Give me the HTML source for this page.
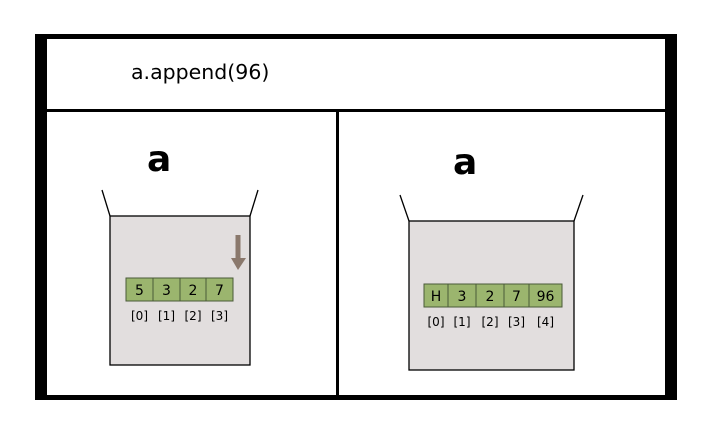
<!DOCTYPE html>
<html><head><meta charset="utf-8"><style>html,body{margin:0;padding:0;background:#fff}svg{display:block}</style></head>
<body>
<svg id="diagram" width="704" height="444" viewBox="0 0 704 444" font-family="DejaVu Sans, Liberation Sans, sans-serif">
<g>
<rect x="35" y="34" width="642" height="5" fill="#000"/>
<rect x="35" y="395" width="642" height="5" fill="#000"/>
<rect x="35" y="34" width="12" height="366" fill="#000"/>
<rect x="665" y="34" width="12" height="366" fill="#000"/>
<rect x="47" y="109" width="618" height="3" fill="#000"/>
<rect x="336" y="112" width="3" height="283" fill="#000"/>
</g>
<text x="131" y="79" font-size="20.5" fill="#000">a.append(96)</text>
<text x="147" y="171" font-size="36" font-weight="bold">a</text>
<text x="453" y="174" font-size="36" font-weight="bold">a</text>
<g>
<line x1="102" y1="190" x2="110" y2="216" stroke="#000" stroke-width="1.3"/>
<line x1="258" y1="190" x2="250" y2="216" stroke="#000" stroke-width="1.3"/>
<rect x="110" y="216" width="140" height="149" fill="#e2dede" stroke="#000" stroke-width="1.3"/>
<rect x="235.5" y="235" width="5" height="24" fill="#8a786c"/>
<polygon points="231,258 246,258 238,270" fill="#8a786c"/>
</g>
<g>
<line x1="400" y1="195" x2="409" y2="221" stroke="#000" stroke-width="1.3"/>
<line x1="583" y1="195" x2="574" y2="221" stroke="#000" stroke-width="1.3"/>
<rect x="409" y="221" width="165" height="149" fill="#e2dede" stroke="#000" stroke-width="1.3"/>
</g>
<g id="cells"></g>
</svg>
<script>
var leftVals=["5","3","2","7"];
var leftIdx=["[0]","[1]","[2]","[3]"];
var leftEdges=[126,153,180,206,233];
var rightVals=["H","3","2","7","96"];
var rightIdx=["[0]","[1]","[2]","[3]","[4]"];
var rightEdges=[424,448,476,504,529,562];
var cellsGroup=document.getElementById('cells');
var NS='http://www.w3.org/2000/svg';
function drawCells(vals,idx,edges,y,prefix){
 for(var i=0;i<vals.length;i++){
  var x0=edges[i],x1=edges[i+1],cx=(x0+x1)/2;
  var r=document.createElementNS(NS,'rect');
  
  
  r.setAttribute('x',x0);r.setAttribute('y',y);r.setAttribute('width',x1-x0);r.setAttribute('height',23);
  r.setAttribute('fill','#9bb56e');r.setAttribute('stroke','#4a5a38');r.setAttribute('stroke-width','1');
  cellsGroup.appendChild(r);
  var t=document.createElementNS(NS,'text');
  
  
  t.setAttribute('x',cx);t.setAttribute('y',y+17);t.setAttribute('text-anchor','middle');t.setAttribute('font-size','14');
  t.setAttribute('font-family','DejaVu Sans, Liberation Sans, sans-serif');
  t.textContent=vals[i];cellsGroup.appendChild(t);
  var l=document.createElementNS(NS,'text');
  
  
  l.setAttribute('x',cx);l.setAttribute('y',y+42);l.setAttribute('text-anchor','middle');l.setAttribute('font-size','12');
  l.setAttribute('font-family','DejaVu Sans, Liberation Sans, sans-serif');
  l.textContent=idx[i];cellsGroup.appendChild(l);
 }
}
drawCells(leftVals,leftIdx,leftEdges,278,'left');
drawCells(rightVals,rightIdx,rightEdges,284,'right');
</script>
</body></html>
